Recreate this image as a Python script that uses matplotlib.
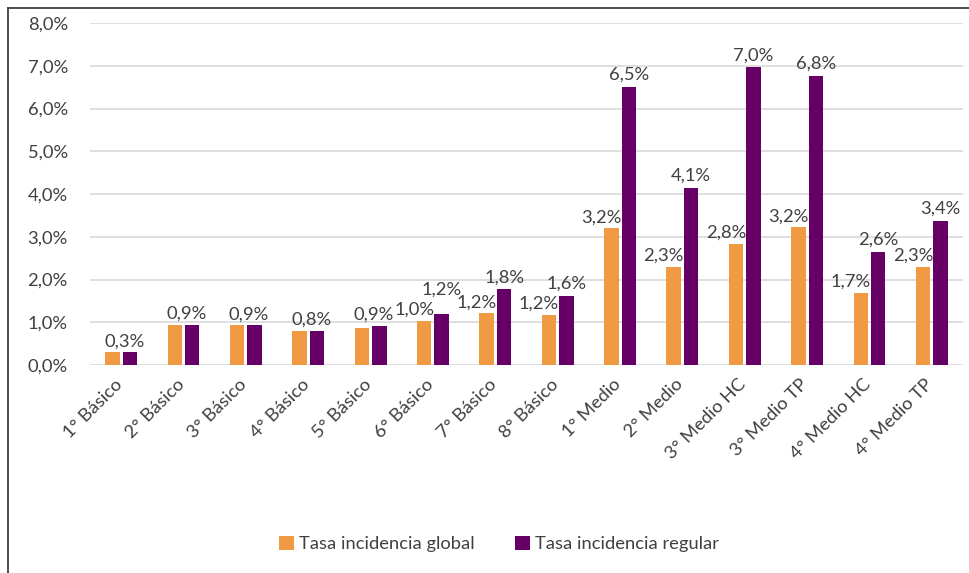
import matplotlib
matplotlib.use("Agg")
import matplotlib.pyplot as plt
from matplotlib.lines import Line2D
from matplotlib.patches import Patch
from matplotlib.transforms import ScaledTranslation
import numpy as np

categories = ["1° Básico", "2° Básico", "3° Básico", "4° Básico", "5° Básico",
              "6° Básico", "7° Básico", "8° Básico", "1° Medio", "2° Medio",
              "3° Medio HC", "3° Medio TP", "4° Medio HC", "4° Medio TP"]
tasa_global = [0.30, 0.94, 0.93, 0.80, 0.87, 1.04, 1.21, 1.18, 3.20, 2.30, 2.84, 3.22, 1.69, 2.30]
tasa_regular = [0.30, 0.94, 0.93, 0.80, 0.91, 1.19, 1.77, 1.62, 6.50, 4.14, 6.96, 6.77, 2.65, 3.37]
series_names = ["Tasa incidencia global", "Tasa incidencia regular"]
y_ticks = [0, 1, 2, 3, 4, 5, 6, 7, 8]

plt.rcParams['font.family'] = ['Lato', 'DejaVu Sans']
TXT = "#404040"
C_OR = "#F09A43"
C_PU = "#660066"
FS = 13.2

fig = plt.figure(figsize=(9.70, 5.73), dpi=100)
ax = fig.add_axes([90/970, 1-365/573, 873/970, 342/573])

x = np.arange(len(categories))
w = 0.232
off = 0.14
ax.bar(x - off, tasa_global, width=w, color=C_OR, zorder=3)
ax.bar(x + off, tasa_regular, width=w, color=C_PU, zorder=3)

ax.set_xlim(-0.5, len(categories) - 0.5)
ax.set_ylim(0, 8)
ax.set_yticks(y_ticks)
ax.set_yticklabels([f"{t},0%" for t in y_ticks], fontsize=FS, color=TXT)
ax.tick_params(axis='y', length=0, pad=16)
ax.set_xticks(x)
ax.set_xticklabels(categories, rotation=45, ha='right', va='top',
                   rotation_mode='default', fontsize=FS, color=TXT)
ax.tick_params(axis='x', length=0, pad=8)
shift = ScaledTranslation(4/100, 0, fig.dpi_scale_trans)
for lab in ax.get_xticklabels():
    lab.set_transform(lab.get_transform() + shift)
for s in ax.spines.values():
    s.set_visible(False)
ax.grid(axis='y', color="#d9d9d9", linewidth=1.2, zorder=0)
ax.set_axisbelow(True)

def fmt(v):
    return f"{v:.1f}".replace('.', ',') + '%'

PX = 0.72  # points per pixel
px_per_unit_x = 873 / len(categories)
for i, (g, r) in enumerate(zip(tasa_global, tasa_regular)):
    tg, tr = fmt(g), fmt(r)
    if tg == tr:
        top = max(g, r)
        ax.annotate(tg, (x[i], top), xytext=(3*PX, 11*PX), textcoords='offset points',
                    ha='center', va='center', fontsize=FS, color=TXT, zorder=4)
        continue
    gy_px = g * 342 / 8 + 11
    gx_px = (x[i] - off) * px_per_unit_x - 10
    ry_px = r * 342 / 8 + 12
    rx_px = (x[i] + off) * px_per_unit_x
    if abs(rx_px - gx_px) < 38 and abs(ry_px - gy_px) < 16:
        ry_px = gy_px + 20
    ax.annotate(tg, (x[i] - off, g), xytext=(-10*PX, (gy_px - g*342/8)*PX),
                textcoords='offset points', ha='center', va='center',
                fontsize=FS, color=TXT, zorder=4)
    ax.annotate(tr, (x[i] + off, r), xytext=(0, (ry_px - r*342/8)*PX),
                textcoords='offset points', ha='center', va='center',
                fontsize=FS, color=TXT, zorder=4)

handles = [Patch(facecolor=C_OR, edgecolor='none'), Patch(facecolor=C_PU, edgecolor='none')]
leg = fig.legend(handles, series_names, loc='center', bbox_to_anchor=(499/970, 1-544/573),
                 ncol=2, frameon=False, fontsize=FS, handlelength=0.8, handleheight=0.8,
                 handletextpad=0.3, columnspacing=2.2)
for t in leg.get_texts():
    t.set_color(TXT)

fig.add_artist(Line2D([8/970, 8/970], [0, 1-8/573], transform=fig.transFigure,
                      color="#404040", linewidth=1.3))
fig.add_artist(Line2D([8/970, 1], [1-8/573, 1-8/573], transform=fig.transFigure,
                      color="#404040", linewidth=1.3))

fig.savefig("out.png", dpi=100, facecolor='white')
